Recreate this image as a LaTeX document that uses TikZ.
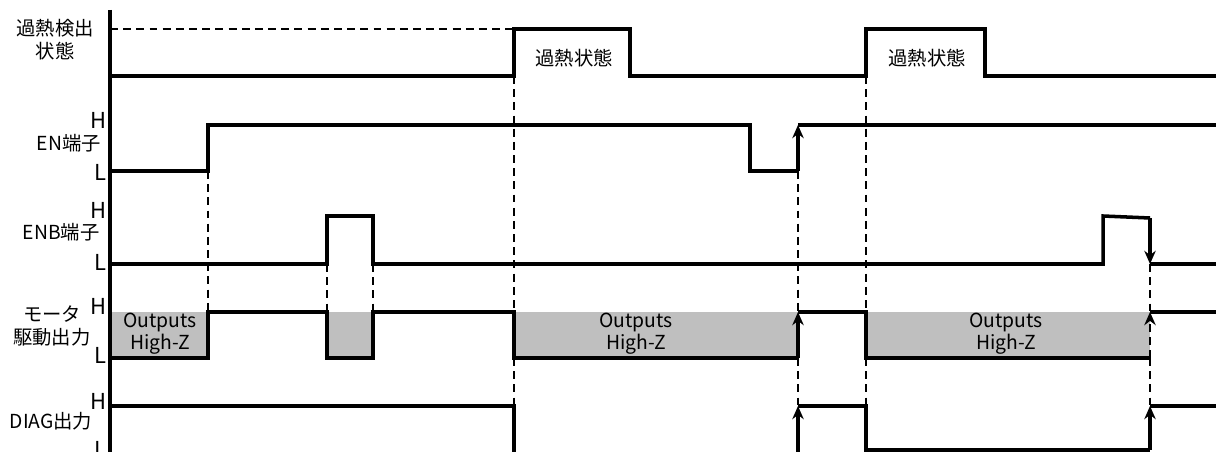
\documentclass[tikz,border=0pt]{standalone}
\usepackage{fontspec}
\setmainfont{Noto Sans CJK JP}
\usetikzlibrary{arrows.meta}

\begin{document}
\begin{tikzpicture}[x = 0.02cm, y = -0.02cm]
\tikzset{
   >={Stealth[length = 7.5pt, width = 6.5pt]},
   sig/.style = {line width = 2pt, line join = miter},
   guide/.style = {line width = 1pt, dash pattern = on 4.5pt off 3pt},
   hiz/.style = {fill = black!25, draw = none},
   name_lbl/.style = {align = center, inner sep = 0pt, font = \fontsize{11}{13}\selectfont},
   level/.style = {anchor = east, inner sep = 0pt, font = \fontsize{12.5}{13}\selectfont},
   box_lbl/.style = {align = center, inner sep = 0pt, font = \fontsize{11}{12.5}\selectfont}
}
\useasboundingbox (0,0) rectangle (1216,452);

  % high-Z areas of the motor output
  \foreach \a/\b in {110/208, 327/373, 514/798, 866/1150}
    \fill[hiz] (\a,312) rectangle (\b,358);

  % timing guides
  \draw[guide] (110,29) -- (514,29);
  \foreach \x/\ya/\yb in {208/171/312, 327/264/312, 373/264/312, 514/76/312, 514/358/406,
                          866/76/312, 866/358/406, 798/171/312, 798/358/406, 1150/264/312, 1150/358/406}
    \draw[guide] (\x,\ya) -- (\x,\yb);
  \draw[guide, ->] (1150,358) -- (1150,312);

  % axis
  \draw[sig, line width = 2.4pt] (110,10) -- (110,452);

  % overheat detection
  \draw[sig] (110,76) -- (514,76) -- (514,29) -- (630,29) -- (630,76) -- (866,76)
             -- (866,29) -- (985,29) -- (985,76) -- (1216,76);

  % EN
  \draw[sig] (110,171) -- (208,171) -- (208,125) -- (750,125) -- (750,171) -- (798,171);
  \draw[sig, ->] (798,171) -- (798,125);
  \draw[sig] (798,125) -- (1216,125);

  % ENB
  \draw[sig] (110,264) -- (327,264) -- (327,216) -- (373,216) -- (373,264) -- (1103,264)
             -- (1103,216) -- (1150,218);
  \draw[sig, ->] (1150,218) -- (1150,264);
  \draw[sig] (1150,264) -- (1216,264);

  % motor drive output
  \draw[sig] (110,358) -- (208,358) -- (208,312) -- (327,312) -- (327,358) -- (373,358)
             -- (373,312) -- (514,312) -- (514,358) -- (798,358);
  \draw[sig, ->] (798,358) -- (798,312);
  \draw[sig] (798,312) -- (866,312) -- (866,358) -- (1150,358);
  \draw[sig] (1150,312) -- (1216,312);

  % DIAG output
  \draw[sig] (110,406) -- (514,406) -- (514,456) -- (798,456);
  \draw[sig, ->] (798,456) -- (798,406);
  \draw[sig] (798,406) -- (866,406) -- (866,450) -- (1150,450);
  \draw[sig, ->] (1150,450) -- (1150,406);
  \draw[sig] (1150,406) -- (1216,406);

  % signal names
  \node[name_lbl] (ovh_name) at (55,40) {過熱検出\\状態};
  \node[name_lbl] (en_name) at (69,143) {EN端子};
  \node[name_lbl] (enb_name) at (61,232) {ENB端子};
  \node[name_lbl] (mot_name) at (52,326) {モータ\\駆動出力};
  \node[name_lbl] (diag_name) at (51,421) {DIAG出力};

  % levels
  \node[level] (en_h) at (107,120) {H};
  \node[level] (en_l) at (107,172) {L};
  \node[level] (enb_h) at (107,210) {H};
  \node[level] (enb_l) at (107,262) {L};
  \node[level] (mot_h) at (107,306) {H};
  \node[level] (mot_l) at (107,355) {L};
  \node[level] (diag_h) at (107,401) {H};
  \node[level] (diag_l) at (107,449) {L};

  % states
  \node[name_lbl] (ovh_first) at (574,58) {過熱状態};
  \node[name_lbl] (ovh_second) at (927,58) {過熱状態};
  \node[box_lbl] (hiz_first) at (160,334) {Outputs\\High-Z};
  \node[box_lbl] (hiz_second) at (636,334) {Outputs\\High-Z};
  \node[box_lbl] (hiz_third) at (1006,334) {Outputs\\High-Z};

\end{tikzpicture}
\end{document}
